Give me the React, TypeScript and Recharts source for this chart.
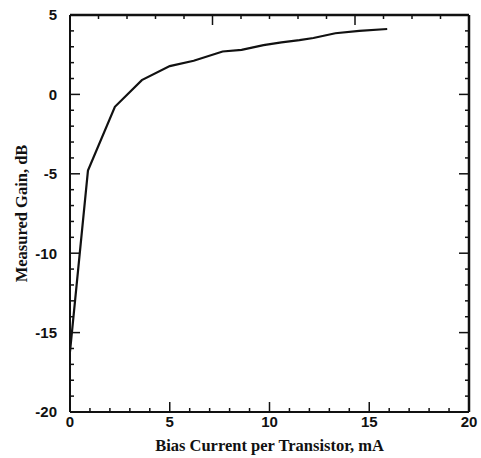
import React from 'react';
import { LineChart, Line, XAxis, YAxis, Label, ReferenceLine } from 'recharts';

const biasCurrent = [0, 0.9, 2.25, 3.6, 5.0, 6.2, 7.65, 8.6, 9.7, 10.6, 11.5, 12.2, 13.3, 14.5, 15.9];
const measuredGain = [-16.2, -4.8, -0.78, 0.9, 1.78, 2.12, 2.7, 2.8, 3.1, 3.28, 3.42, 3.55, 3.85, 4.0, 4.12];
const xTicks = Array.from({ length: 21 }, (_, i) => i);
const yTicks = Array.from({ length: 26 }, (_, i) => i - 20);

const data = biasCurrent.map((x, i) => ({ x, y: measuredGain[i] }));

const INK = '#111';
const TICK_FONT = { fontFamily: '"Liberation Sans", Arial, sans-serif', fontSize: 15, fontWeight: 700, fill: INK };
const TITLE_FONT = { fontFamily: '"Liberation Serif", "Times New Roman", serif', fontSize: 16.5, fontWeight: 700, fill: INK };

const isMajor = (v: number) => Math.abs(v % 5) === 0;

const BottomTick = (props: any) => {
  const { x, y, payload } = props;
  const v = payload.value;
  const major = isMajor(v);
  return (
    <g>
      <line x1={x} y1={y} x2={x} y2={y - (major ? 10 : 4)} stroke={INK} strokeWidth={1.5} />
      {major && (
        <text x={x} y={y + 15} textAnchor="middle" {...TICK_FONT}>
          {v}
        </text>
      )}
    </g>
  );
};

const TopTick = (props: any) => {
  const { x, y, payload } = props;
  const major = isMajor(payload.value);
  return <line x1={x} y1={y} x2={x} y2={y + (major ? 10 : 4)} stroke={INK} strokeWidth={1.5} />;
};

const LeftTick = (props: any) => {
  const { x, y, payload } = props;
  const v = payload.value;
  const major = isMajor(v);
  return (
    <g>
      <line x1={x} y1={y} x2={x + (major ? 10 : 4)} y2={y} stroke={INK} strokeWidth={1.5} />
      {major && (
        <text x={x - 13} y={y} dy="0.36em" textAnchor="end" {...TICK_FONT}>
          {v}
        </text>
      )}
    </g>
  );
};

const RightTick = (props: any) => {
  const { x, y, payload } = props;
  const major = isMajor(payload.value);
  return <line x1={x} y1={y} x2={x - (major ? 10 : 4)} y2={y} stroke={INK} strokeWidth={1.5} />;
};

const YTitle = (props: any) => {
  const vb = props.viewBox || {};
  const cy = (vb.y ?? 15) + (vb.height ?? 397) / 2;
  const bx = 27;
  return (
    <text x={bx} y={cy} textAnchor="middle" transform={`rotate(-90, ${bx}, ${cy})`} {...TITLE_FONT}>
      Measured Gain, dB
    </text>
  );
};

export default function App() {
  const axisLine = { stroke: INK, strokeWidth: 2 };
  return (
    <div style={{ width: 481, height: 458, overflow: 'hidden' }}>
      <style>{'body{margin:0;overflow:hidden;}'}</style>
      <LineChart width={481} height={458} data={data} margin={{ top: 14, right: 11, bottom: 0, left: 0 }}>
        <XAxis
          dataKey="x"
          type="number"
          domain={[0, 20]}
          ticks={xTicks}
          interval={0}
          allowDataOverflow
          height={46}
          tickSize={0}
          tickMargin={0}
          tickLine={false}
          axisLine={axisLine}
          tick={<BottomTick />}
        >
          <Label
            value="Bias Current per Transistor, mA"
            position="insideBottom"
            offset={7}
            style={TITLE_FONT}
          />
        </XAxis>
        <XAxis
          xAxisId="top"
          orientation="top"
          type="number"
          domain={[0, 20]}
          ticks={xTicks}
          interval={0}
          allowDataOverflow
          height={1}
          tickSize={0}
          tickMargin={0}
          tickLine={false}
          axisLine={axisLine}
          tick={<TopTick />}
        />
        <YAxis
          type="number"
          domain={[-20, 5]}
          ticks={yTicks}
          interval={0}
          allowDataOverflow
          width={70}
          tickSize={0}
          tickMargin={0}
          tickLine={false}
          axisLine={axisLine}
          tick={<LeftTick />}
        >
          <Label content={<YTitle />} />
        </YAxis>
        <YAxis
          yAxisId="right"
          orientation="right"
          type="number"
          domain={[-20, 5]}
          ticks={yTicks}
          interval={0}
          allowDataOverflow
          width={1}
          tickSize={0}
          tickMargin={0}
          tickLine={false}
          axisLine={axisLine}
          tick={<RightTick />}
        />
        <ReferenceLine y={5} stroke={INK} strokeWidth={2.5} ifOverflow="visible" />
        <ReferenceLine x={20} stroke={INK} strokeWidth={2.5} ifOverflow="visible" />
        <Line
          type="linear"
          dataKey="y"
          stroke={INK}
          strokeWidth={2.2}
          dot={false}
          isAnimationActive={false}
        />
      </LineChart>
    </div>
  );
}
